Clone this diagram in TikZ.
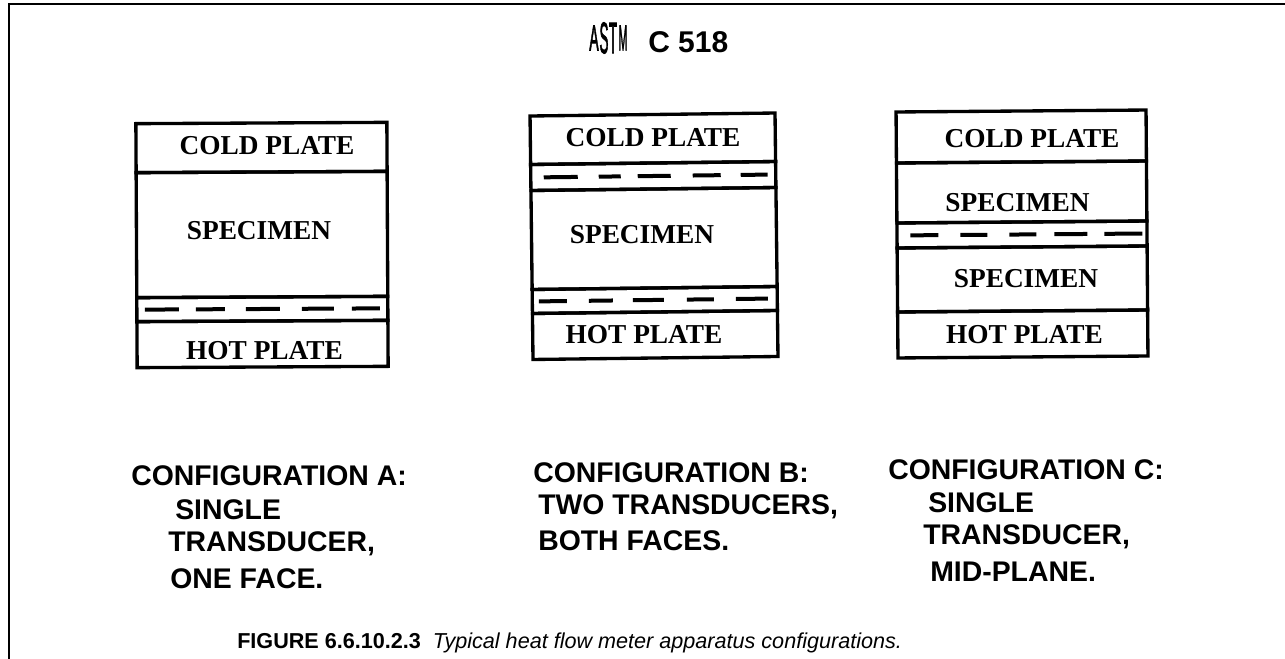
\documentclass[tikz,border=0pt]{standalone}
\usepackage{fontspec}
\setmainfont{Liberation Serif}
\setsansfont{Liberation Sans}
\newfontfamily\logofont[FakeBold=2.5]{Liberation Sans}
\usepackage{graphicx}
\tikzset{
    layer/.style 2 args={rectangle, draw, line width=2.5pt, inner sep=0pt, outer sep=0pt, minimum width=#1*0.75pt, minimum height=#2*0.75pt},
    platetext/.style={inner sep=0pt, font=\fontsize{20.5}{22}\selectfont\bfseries},
    configtext/.style={anchor=west, inner sep=0pt, font=\fontsize{21.3}{24}\selectfont\sffamily\bfseries},
    logoletter/.style={inner sep=0pt, font=\fontsize{10}{10}\selectfont\logofont},
    transducer/.style={line width=3pt, dash pattern=#1}
}
\begin{document}
\begin{tikzpicture}[x=0.75pt, y=-0.75pt]
    \useasboundingbox (0,0) rectangle (1285,659);
    % page frame: left and top only
    \coordinate (fbl) at (9,659);
    \coordinate (ftl) at (9,4);
    \coordinate (ftr) at (1285,4);
    \draw[line width=1.6pt] (fbl) -- (ftl) -- (ftr);

    % header
    \node[logoletter] (logoa) at (594,38) {\scalebox{1.05}[2.7]{A}};
    \node[logoletter] (logos) at (604,38) {\scalebox{1.0}[3.3]{S}};
    \node[logoletter] (logot) at (613,38) {\scalebox{1.0}[3.3]{T}};
    \node[logoletter] (logom) at (623,38) {\scalebox{0.8}[2.7]{M}};
    \node[anchor=west, inner sep=0pt, font=\fontsize{22.5}{24}\selectfont\sffamily\bfseries] (title) at (648,42) {C 518};

    % configuration A
    \begin{scope}[rotate around={0.3:(262,245)}, transform shape]
        \node[layer={251}{49}] (acold) at (262,147.5) {};
        \node[layer={251}{125}] (aspec) at (262,234.5) {};
        \node[layer={251}{24}] (atrans) at (262,309) {};
        \node[layer={251}{46}] (ahot) at (262,344) {};
        \draw[transducer={on 25.5pt off 12.75pt on 21.75pt off 15.75pt on 25.5pt off 16.5pt on 24pt off 13.5pt on 21pt off 30pt}, yshift=-2.25pt, shorten <=6pt, shorten >=6pt] (atrans.west) -- (atrans.east);
    \end{scope}
    \node[platetext] (acoldtext) at (267,146) {COLD PLATE};
    \node[platetext] (aspectext) at (259,231) {SPECIMEN};
    \node[platetext] (ahottext) at (264.5,351) {HOT PLATE};

    % configuration B
    \begin{scope}[rotate around={0.7:(654,236)}, transform shape]
        \node[layer={245}{48.5}] (bcold) at (654,138.75) {};
        \node[layer={245}{26}] (btransa) at (654,176) {};
        \node[layer={245}{99}] (bspec) at (654,238.5) {};
        \node[layer={245}{24}] (btransb) at (654,300) {};
        \node[layer={245}{46}] (bhot) at (654,335) {};
        \draw[transducer={on 25.5pt off 15.75pt on 16.5pt off 12.75pt on 24.75pt off 16.5pt on 21pt off 15pt on 20.25pt off 30pt}, yshift=-3pt, shorten <=9.75pt, shorten >=6pt] (btransa.west) -- (btransa.east);
        \draw[transducer={on 21pt off 16.5pt on 18pt off 15pt on 23.25pt off 17.25pt on 20.25pt off 16.5pt on 24pt off 30pt}, yshift=-2.25pt, shorten <=5pt, shorten >=5pt] (btransb.west) -- (btransb.east);
    \end{scope}
    \node[platetext] (bcoldtext) at (653,138) {COLD PLATE};
    \node[platetext] (bspectext) at (642,235) {SPECIMEN};
    \node[platetext] (bhottext) at (644,335) {HOT PLATE};

    % configuration C
    \begin{scope}[rotate around={0.45:(1022,234)}, transform shape]
        \node[layer={250}{51}] (ccold) at (1022,136.5) {};
        \node[layer={250}{60}] (cspeca) at (1022,192) {};
        \node[layer={250}{25}] (ctrans) at (1022,234.5) {};
        \node[layer={250}{64}] (cspecb) at (1022,279) {};
        \node[layer={250}{46}] (chot) at (1022,334) {};
        \draw[transducer={on 21pt off 16.5pt on 20.25pt off 16.5pt on 20.25pt off 13.5pt on 24.75pt off 12.75pt on 28.5pt off 30pt}, yshift=-1.1pt, shorten <=10pt, shorten >=2pt] (ctrans.west) -- (ctrans.east);
    \end{scope}
    \node[platetext] (ccoldtext) at (1032,139) {COLD PLATE};
    \node[platetext] (cspecatext) at (1017.5,203) {SPECIMEN};
    \node[platetext] (cspecbtext) at (1026,279) {SPECIMEN};
    \node[platetext] (chottext) at (1024.5,335) {HOT PLATE};

    % captions of the three columns
    \node[configtext] (alinea) at (131,476) {CONFIGURATION A:};
    \node[configtext] (alineb) at (175,510) {SINGLE};
    \node[configtext] (alinec) at (168,544) {TRANSDUCER,};
    \node[configtext] (alined) at (170,579) {ONE FACE.};
    \node[configtext] (blinea) at (533,473) {CONFIGURATION B:};
    \node[configtext] (blineb) at (538,507) {TWO TRANSDUCERS,};
    \node[configtext] (blinec) at (538,541) {BOTH FACES.};
    \node[configtext] (clinea) at (888,470) {CONFIGURATION C:};
    \node[configtext] (clineb) at (928,503) {SINGLE};
    \node[configtext] (clinec) at (923,537) {TRANSDUCER,};
    \node[configtext] (clined) at (930,572) {MID-PLANE.};

    % figure caption
    \node[anchor=west, inner sep=0pt, font=\fontsize{16.2}{18}\selectfont\sffamily] (caption) at (237,643) {\textbf{FIGURE 6.6.10.2.3}\ \ \textit{Typical heat flow meter apparatus configurations.}};
\end{tikzpicture}
\end{document}
